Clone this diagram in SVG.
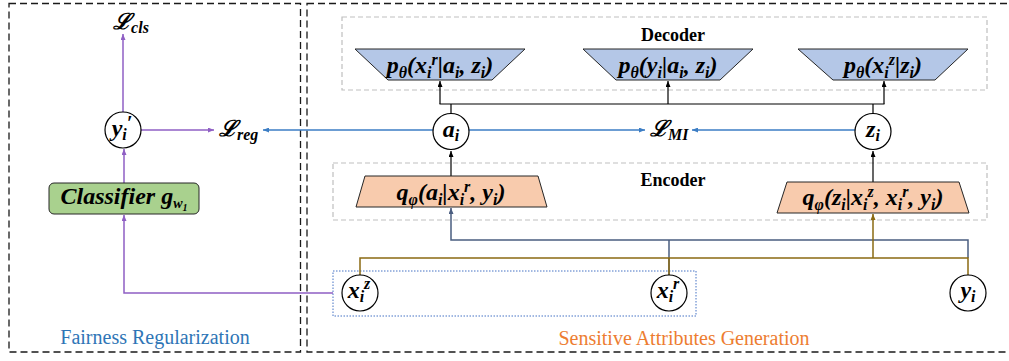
<svg xmlns="http://www.w3.org/2000/svg" width="1009" height="361" viewBox="0 0 1009 361">
<style>
.frame{fill:none;stroke:#1a1a1a;stroke-width:1.3;stroke-dasharray:7,4}
.grp{fill:none;stroke:#bfbfbf;stroke-width:1.2;stroke-dasharray:5,3}
.math{font-family:'Liberation Serif','Times New Roman','DejaVu Serif',serif;font-weight:bold;font-style:italic;font-size:24px;fill:#000}
.s{font-size:16px}
.L{font-family:'DejaVu Serif',serif;font-size:22px}
.node{fill:#fff;stroke:#000;stroke-width:1.2}
.dec{fill:#b4c7e7;stroke:#262626;stroke-width:1}
.enc{fill:#f8cbad;stroke:#262626;stroke-width:1}
.lbl{font-family:'Liberation Serif','Times New Roman',serif;font-weight:bold;font-size:18px;fill:#000}
.cap{font-family:'Liberation Serif','Times New Roman',serif;font-size:20px}
.k{fill:none;stroke:#000;stroke-width:1.2}
.pu{fill:none;stroke:#8f5fc4;stroke-width:1.5}
.bl{fill:none;stroke:#3b7dc4;stroke-width:1.3}
.nv{fill:none;stroke:#4a5d80;stroke-width:1.5}
.ol{fill:none;stroke:#8a6a12;stroke-width:1.5}
</style>
<defs>
<marker id="ak" markerWidth="6" markerHeight="5" refX="6" refY="2.5" orient="auto" markerUnits="userSpaceOnUse"><path d="M0,0 L6,2.5 L0,5 z" fill="#000"/></marker>
<marker id="ap" markerWidth="6" markerHeight="5" refX="6" refY="2.5" orient="auto" markerUnits="userSpaceOnUse"><path d="M0,0 L6,2.5 L0,5 z" fill="#8f5fc4"/></marker>
<marker id="ab" markerWidth="6" markerHeight="5" refX="6" refY="2.5" orient="auto" markerUnits="userSpaceOnUse"><path d="M0,0 L6,2.5 L0,5 z" fill="#3b7dc4"/></marker>
<marker id="an" markerWidth="6" markerHeight="5" refX="6" refY="2.5" orient="auto" markerUnits="userSpaceOnUse"><path d="M0,0 L6,2.5 L0,5 z" fill="#4a5d80"/></marker>
<marker id="ao" markerWidth="6" markerHeight="5" refX="6" refY="2.5" orient="auto" markerUnits="userSpaceOnUse"><path d="M0,0 L6,2.5 L0,5 z" fill="#8a6a12"/></marker>
</defs>

<g id="frames">
<rect class="frame" x="9" y="3.5" width="291.5" height="348.5"/>
<rect class="frame" x="307" y="3.5" width="703" height="348.5"/>
<text class="cap" x="155" y="344" text-anchor="middle" fill="#2e75b6">Fairness Regularization</text>
<text class="cap" x="684" y="345" text-anchor="middle" fill="#ed7d31">Sensitive Attributes Generation</text>
</g>

<g id="decoder-group">
<rect class="grp" x="342" y="17" width="645" height="73"/>
<text class="lbl" x="673" y="41" text-anchor="middle">Decoder</text>
</g>
<g id="encoder-group">
<rect class="grp" x="333" y="163" width="654" height="57"/>
<text class="lbl" x="673" y="186" text-anchor="middle">Encoder</text>
</g>
<g id="input-group">
<rect x="333" y="271" width="363" height="45" fill="none" stroke="#4472c4" stroke-width="1" stroke-dasharray="1.5,1.5"/>
</g>

<g id="connectors">
<path class="pu" d="M333,293 H124 V215" marker-end="url(#ap)"/>
<path class="pu" d="M124,183 V149" marker-end="url(#ap)"/>
<path class="pu" d="M123,112 V34" marker-end="url(#ap)"/>
<path class="pu" d="M141,130 H214" marker-end="url(#ap)"/>
<path class="bl" d="M433,130 H263" marker-end="url(#ab)"/>
<path class="bl" d="M469,130 H645" marker-end="url(#ab)"/>
<path class="bl" d="M855,130 H692" marker-end="url(#ab)"/>
<path class="k" d="M451,113 V104 M873,113 V104 M439.5,104 H884.5"/>
<path class="k" d="M440,104 V81" marker-end="url(#ak)"/>
<path class="k" d="M668,104 V81" marker-end="url(#ak)"/>
<path class="k" d="M884,104 V81" marker-end="url(#ak)"/>
<path class="k" d="M451,176 V151" marker-end="url(#ak)"/>
<path class="k" d="M873,182 V151" marker-end="url(#ak)"/>
<path class="nv" d="M669,275 V240 M968,258 V240 H451 V208" marker-end="url(#an)"/>
<path class="ol" d="M360,275 V258 H968 V275 M669,258 V275"/>
<path class="ol" d="M873,258 V214" marker-end="url(#ao)"/>
</g>

<g id="L_cls"><text class="math" x="131" y="29" text-anchor="middle"><tspan class="L">ℒ</tspan><tspan class="s" dy="4">cls</tspan></text></g>
<g id="L_reg"><text class="math" x="219" y="136"><tspan class="L">ℒ</tspan><tspan class="s" dy="4">reg</tspan></text></g>
<g id="L_MI"><text class="math" x="650" y="136"><tspan class="L">ℒ</tspan><tspan class="s" dy="4" font-size="15">MI</tspan></text></g>

<g id="y_pred">
<circle class="node" cx="123" cy="130" r="18"/>
<text class="math" x="122" y="136" text-anchor="middle">y<tspan class="s" dy="4">i</tspan><tspan dy="-10" font-size="20">′</tspan></text>
</g>

<g id="classifier">
<rect x="49" y="183" width="150" height="31" rx="5" fill="#a9d18e" stroke="#262626" stroke-width="1"/>
<text class="math" x="124" y="204" text-anchor="middle" font-size="18.5">Classifier g<tspan font-size="14" dy="4">w</tspan><tspan font-size="10" dy="3">1</tspan></text>
</g>

<g id="dec_xr">
<polygon class="dec" points="355,49 525,49 492,80 388,80"/>
<text class="math" x="440" y="73" text-anchor="middle">p<tspan class="s" dy="5">θ</tspan><tspan dy="-5">(x</tspan><tspan class="s" dy="5">i</tspan><tspan class="s" dy="-13">r</tspan><tspan dy="8">|a</tspan><tspan class="s" dy="5">i</tspan><tspan dy="-5">, z</tspan><tspan class="s" dy="5">i</tspan><tspan dy="-5">)</tspan></text>
</g>
<g id="dec_y">
<polygon class="dec" points="583,49 753,49 720,80 616,80"/>
<text class="math" x="668" y="73" text-anchor="middle">p<tspan class="s" dy="5">θ</tspan><tspan dy="-5">(y</tspan><tspan class="s" dy="5">i</tspan><tspan dy="-5">|a</tspan><tspan class="s" dy="5">i</tspan><tspan dy="-5">, z</tspan><tspan class="s" dy="5">i</tspan><tspan dy="-5">)</tspan></text>
</g>
<g id="dec_xz">
<polygon class="dec" points="798,49 968,49 935,80 833,80"/>
<text class="math" x="883" y="73" text-anchor="middle">p<tspan class="s" dy="5">θ</tspan><tspan dy="-5">(x</tspan><tspan class="s" dy="5">i</tspan><tspan class="s" dy="-13">z</tspan><tspan dy="8">|z</tspan><tspan class="s" dy="5">i</tspan><tspan dy="-5">)</tspan></text>
</g>

<g id="enc_a">
<polygon class="enc" points="365,176 538,176 547,207 356,207"/>
<text class="math" x="451" y="200" text-anchor="middle">q<tspan class="s" dy="5">φ</tspan><tspan dy="-5">(a</tspan><tspan class="s" dy="5">i</tspan><tspan dy="-5">|x</tspan><tspan class="s" dy="5">i</tspan><tspan class="s" dy="-13">r</tspan><tspan dy="8">, y</tspan><tspan class="s" dy="5">i</tspan><tspan dy="-5">)</tspan></text>
</g>
<g id="enc_z">
<polygon class="enc" points="787,182 959,182 969,213 777,213"/>
<text class="math" x="873" y="205" text-anchor="middle">q<tspan class="s" dy="5">φ</tspan><tspan dy="-5">(z</tspan><tspan class="s" dy="5">i</tspan><tspan dy="-5">|x</tspan><tspan class="s" dy="5">i</tspan><tspan class="s" dy="-13">z</tspan><tspan dy="8">, x</tspan><tspan class="s" dy="5">i</tspan><tspan class="s" dy="-13">r</tspan><tspan dy="8">, y</tspan><tspan class="s" dy="5">i</tspan><tspan dy="-5">)</tspan></text>
</g>

<g id="a_i">
<circle class="node" cx="451" cy="131.5" r="18"/>
<text class="math" x="451" y="137" text-anchor="middle">a<tspan class="s" dy="4">i</tspan></text>
</g>
<g id="z_i">
<circle class="node" cx="873" cy="131.5" r="18"/>
<text class="math" x="873" y="137" text-anchor="middle">z<tspan class="s" dy="4">i</tspan></text>
</g>
<g id="x_z">
<circle class="node" cx="360" cy="293" r="18"/>
<text class="math" x="359" y="298" text-anchor="middle">x<tspan class="s" dy="4">i</tspan><tspan class="s" dy="-13">z</tspan></text>
</g>
<g id="x_r">
<circle class="node" cx="669" cy="293" r="18"/>
<text class="math" x="668" y="298" text-anchor="middle">x<tspan class="s" dy="4">i</tspan><tspan class="s" dy="-13">r</tspan></text>
</g>
<g id="y_i">
<circle class="node" cx="968" cy="293" r="18"/>
<text class="math" x="968" y="298" text-anchor="middle">y<tspan class="s" dy="4">i</tspan></text>
</g>
</svg>
